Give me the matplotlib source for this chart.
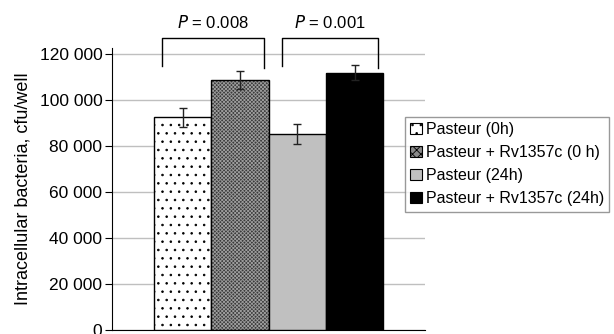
import matplotlib
matplotlib.use("Agg")
import matplotlib.pyplot as plt
from matplotlib.ticker import FuncFormatter
from matplotlib.patches import Patch

plt.rcParams["font.family"] = ["Liberation Sans", "DejaVu Sans"]
plt.rcParams["hatch.linewidth"] = 0.6

labels = ["Pasteur (0h)", "Pasteur + Rv1357c (0 h)", "Pasteur (24h)", "Pasteur + Rv1357c (24h)"]
means = [92500, 108700, 85200, 111900]
errors = [4200, 4000, 4300, 3300]
p_labels = ["0.008", "0.001"]
p_pairs = [(0, 1), (2, 3)]

faces = ["white", "#3a3a3a", "#c0c0c0", "black"]
hatches = ["..", "xxxxxxxxx", None, None]
hatch_cols = ["black", "#9c9c9c", "black", "black"]

fig = plt.figure(figsize=(6.14, 3.34), dpi=100)
ax = fig.add_axes([0.1824, 0.012, 0.51, 0.844])

x = list(range(len(means)))
for i in x:
    # fill + hatch first, then a plain black outline on top
    ax.bar(i, means[i], width=1.0, color=faces[i], edgecolor=hatch_cols[i],
           linewidth=0, hatch=hatches[i], zorder=3)
    ax.bar(i, means[i], width=1.0, fill=False, edgecolor="black",
           linewidth=1.0, zorder=3)
ax.errorbar(x, means, yerr=errors, fmt="none", ecolor="#222222",
            elinewidth=1.0, capsize=3, capthick=1.0, zorder=4)

ax.set_xlim(-1.23, 4.23)
ax.set_ylim(0, 122600)
ax.set_yticks(range(0, 120001, 20000))
ax.yaxis.set_major_formatter(FuncFormatter(lambda v, p: f"{int(v):,}".replace(",", " ")))
ax.set_xticks([])
ax.grid(axis="y", color="#bfbfbf", linewidth=1.0, zorder=0)
ax.spines["top"].set_visible(False)
ax.spines["right"].set_visible(False)
ax.tick_params(axis="y", labelsize=12.5, length=5, width=0.8, pad=2)
ax.set_ylabel("Intracellular bacteria, cfu/well", fontsize=13, labelpad=6)

# significance brackets
bracket_top = 127000
offsets = [(-0.36, 0.42), (-0.26, 0.41)]
for (a, b), p, (da, db) in zip(p_pairs, p_labels, offsets):
    xa, xb = a + da, b + db
    ax.plot([xa, xa, xb, xb], [115000, bracket_top, bracket_top, 114000],
            color="black", linewidth=1.0, clip_on=False)
    ax.text((xa + xb) / 2, bracket_top + 3200, f"$P$ = {p}", ha="center",
            va="bottom", fontsize=12)

# legend proxies: small squares with the same fills
handles = [Patch(facecolor=faces[i], edgecolor="black", hatch=hatches[i],
                 linewidth=0.8) for i in x]
handles[1] = Patch(facecolor="#8a8a8a", edgecolor="black", hatch="xxxx", linewidth=0.8)
leg = ax.legend(handles, labels, loc="upper left", bbox_to_anchor=(0.935, 0.757),
                fontsize=11.5, frameon=True, fancybox=False, edgecolor="#808080",
                handlelength=0.7, handleheight=0.7, handletextpad=0.25,
                borderpad=0.35, labelspacing=0.5, borderaxespad=0)
leg.get_frame().set_linewidth(1.0)

fig.savefig("out.png", dpi=100)
